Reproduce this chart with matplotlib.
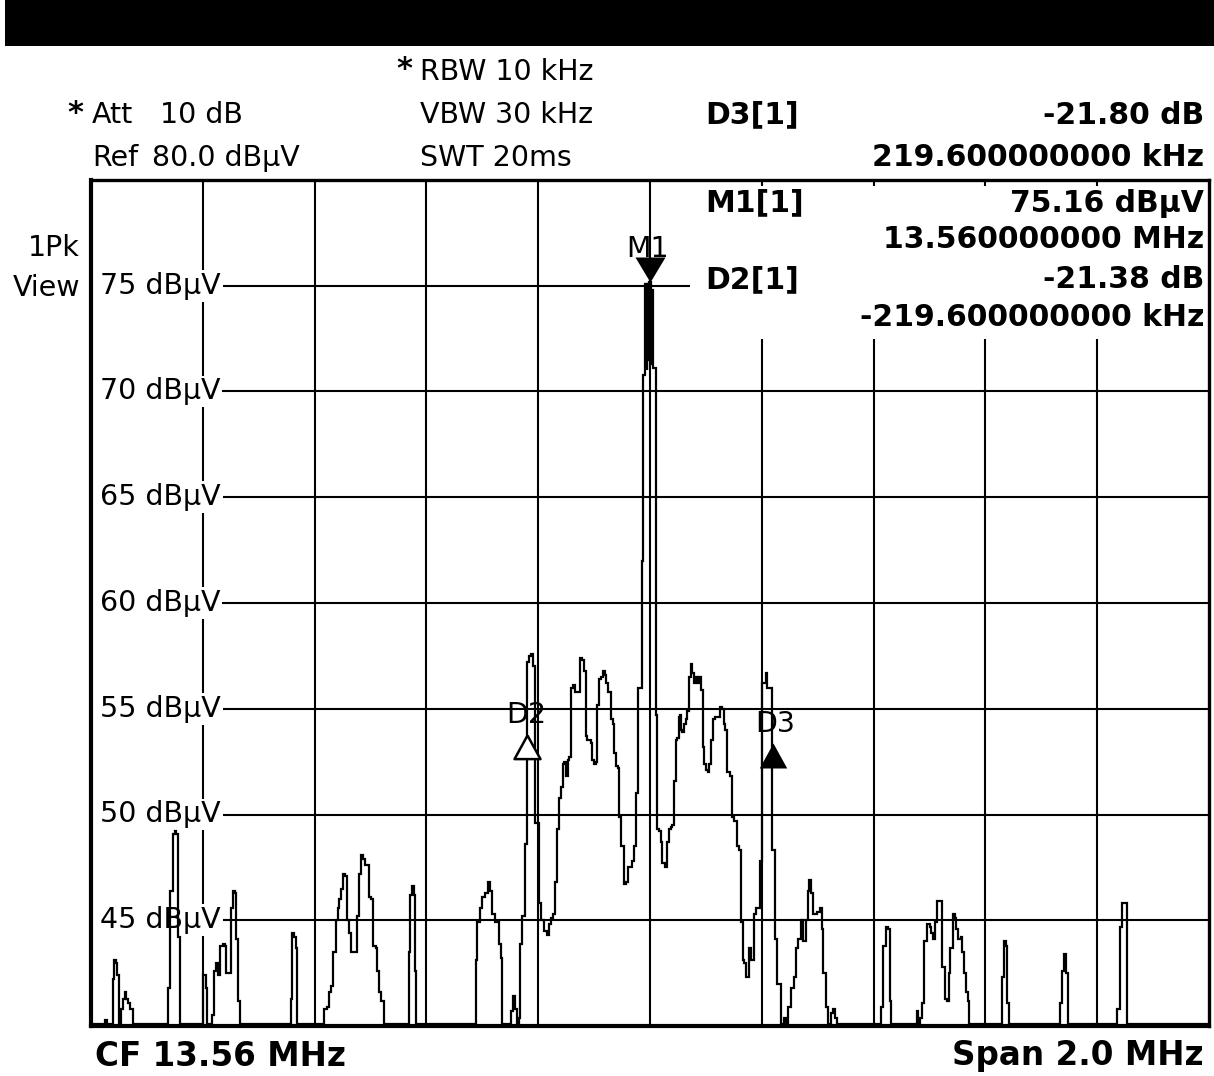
import matplotlib
matplotlib.use("Agg")
import matplotlib.pyplot as plt
from matplotlib.patches import Rectangle

# ---- instrument settings -------------------------------------------------
center_mhz = 13.56
span_mhz = 2.0
ref_level = 80.0
bottom_level = 40.0
grid_levels = [45, 50, 55, 60, 65, 70, 75]

header_left = [("Att", "10 dB"), ("Ref", "80.0 dB\u03bcV")]
header_mid = ["RBW 10 kHz", "VBW 30 kHz", "SWT 20ms"]

# ---- markers ---------------------------------------------------------------
m1_offset_khz = 0.0
m1_level = 75.16
d2_offset_khz = -219.6
d2_delta_db = -21.38
d3_offset_khz = 219.6
d3_delta_db = -21.80

# ---- max-peak trace (offset from centre in kHz, level in dBuV) -------------
trace_khz = [
    -1000, -977, -973, -970,
    -962, -961, -957, -954, -952, -948,
    -946, -945, -941, -939, -936, -932, -927, -923,
    -862, -861, -855, -852, -849, -846, -844, -843, -839,
    -800, -798, -796, -794, -791,
    -784, -782, -778, -775, -771, -767, -762, -759, -757, -751, -748, -744,
    -741, -739, -735, -733,
    -644, -642, -639, -635, -632, -630,
    -585, -581, -576, -572, -569, -564, -560, -558, -555, -551, -549, -544,
    -540, -537, -531, -526, -522, -519, -515, -512, -508, -504, -501, -496,
    -494, -488, -487, -483, -478, -474,
    -433, -431, -428, -424, -420, -419, -417,
    -313, -311, -308, -302, -299, -293, -288, -283, -281, -274, -268, -265,
    -263,
    -249, -247, -243, -240, -236, -233, -231, -227, -222, -218, -215, -211,
    -208, -205, -201, -197, -192, -188, -182, -179, -175, -172, -168, -165,
    -161, -157, -156, -152, -148, -147, -143, -140, -136, -131, -127, -123,
    -120, -116, -113, -111, -107, -104, -102, -98, -95, -93, -91, -86,
    -82, -79, -77, -72, -68, -66, -63, -59, -57, -54, -48, -45,
    -41, -36, -30, -27, -23, -21, -16, -13, -11, -7, -5, -4,
    -2, 0, 2, 4, 5, 9, 11, 14, 18, 21, 23, 29,
    32, 36, 39, 41, 45, 48, 50, 52, 55, 57, 59, 63,
    66, 68, 70, 75, 77, 81, 84, 86, 89, 93, 95, 98,
    102, 104, 107, 111, 114, 120, 123, 127, 131, 132, 136, 140,
    145, 147, 148, 154, 156, 161, 165, 166, 170, 174, 175, 179,
    182, 184, 188, 191, 195, 199, 202, 206, 209, 211, 215, 222,
    226, 229, 233, 236, 242, 245, 250, 256, 259, 263, 268, 272,
    277, 281, 283, 286, 290, 292, 295, 301, 306, 308, 311, 317,
    320, 326, 329, 333, 335,
    413, 415, 420, 424, 428, 431, 433,
    476, 478, 481, 485, 488, 494, 497, 503, 504, 508, 513, 515,
    521, 522, 524, 530, 533, 535, 540, 544, 547, 549, 553, 558,
    560, 564, 567, 571, 572,
    628, 630, 635, 639, 640, 644,
    733, 735, 739, 742, 746, 748,
    835, 837, 843, 846, 852, 853, 855,
    1000,
]
trace_dbuv = [
    40.1, 40.1, 40.3, 40.1,
    40.1, 42.2, 43.1, 43.0, 42.4, 40.1,
    40.1, 40.8, 41.3, 41.6, 41.3, 41.1, 40.8, 40.1,
    40.1, 41.8, 46.4, 49.1, 49.2, 49.1, 47.8, 44.2, 40.1,
    40.1, 42.4, 42.4, 41.8, 40.1,
    40.1, 40.5, 42.6, 43.0, 42.4, 43.8, 43.9, 43.8, 42.5, 42.5, 45.6, 46.4,
    46.3, 44.1, 41.2, 40.1,
    40.1, 41.3, 44.4, 44.2, 43.7, 40.1,
    40.1, 40.8, 40.9, 41.6, 41.9, 43.5, 45.0, 45.6, 46.0, 46.5, 47.2, 47.1,
    45.0, 44.4, 43.5, 43.5, 45.2, 47.2, 48.1, 47.9, 47.6, 47.6, 46.1, 46.0,
    43.8, 43.7, 42.6, 41.6, 41.2, 40.1,
    40.1, 43.5, 46.2, 46.6, 46.2, 42.6, 40.1,
    40.1, 43.1, 44.9, 45.6, 46.1, 46.3, 46.8, 46.4, 45.3, 44.9, 43.9, 43.2,
    40.1,
    40.1, 40.7, 41.4, 40.8, 40.1, 40.4, 43.9, 45.2, 48.6, 57.2, 57.5, 57.6,
    57.0, 49.6, 49.6, 45.8, 45.0, 44.5, 44.3, 44.8, 45.1, 45.3, 46.8, 49.3,
    50.8, 51.3, 52.4, 52.5, 51.8, 52.6, 52.7, 56.0, 56.1, 55.8, 55.8, 57.4,
    57.3, 56.8, 53.7, 53.5, 53.5, 53.4, 52.6, 52.4, 52.5, 55.2, 56.4, 56.5,
    56.8, 56.6, 56.2, 55.8, 54.5, 54.3, 52.9, 52.3, 52.2, 49.9, 48.5, 46.7,
    46.8, 47.5, 47.8, 48.5, 51.0, 56.0, 56.0, 62.0, 70.8, 75.1, 71.0, 75.1,
    71.5, 75.16, 71.3, 74.8, 71.1, 71.1, 54.7, 49.3, 49.2, 48.7, 47.7, 47.5,
    48.7, 49.3, 49.4, 49.5, 51.6, 53.5, 53.6, 54.6, 54.7, 54.0, 53.9, 54.3,
    54.5, 54.9, 56.5, 57.1, 56.7, 56.2, 56.5, 56.2, 56.5, 55.9, 53.2, 52.4,
    52.1, 52.0, 52.4, 53.5, 54.5, 54.6, 54.6, 55.1, 55.0, 54.3, 54.0, 52.0,
    51.8, 50.8, 49.9, 49.7, 48.5, 48.3, 44.9, 43.1, 43.0, 42.3, 42.3, 43.7,
    43.1, 43.1, 45.3, 45.6, 45.6, 47.8, 56.2, 56.2, 56.7, 56.0, 56.0, 48.3,
    44.1, 42.0, 42.0, 40.1, 40.4, 40.1, 40.9, 41.8, 42.3, 43.7, 44.1, 45.0,
    44.0, 45.0, 46.4, 46.9, 46.3, 45.3, 45.3, 45.4, 45.6, 44.6, 42.5, 40.9,
    40.1, 40.6, 40.8, 40.4, 40.1,
    40.1, 40.9, 43.8, 44.7, 44.6, 41.2, 40.1,
    40.1, 40.7, 40.1, 40.4, 41.1, 44.0, 44.8, 44.7, 44.4, 44.1, 44.9, 45.9,
    45.9, 43.6, 42.8, 41.3, 41.2, 42.5, 43.7, 45.3, 45.1, 44.6, 44.1, 44.2,
    43.5, 42.5, 41.6, 41.2, 40.1,
    40.1, 42.3, 44.0, 43.8, 41.1, 40.1,
    40.1, 41.1, 42.6, 43.4, 42.5, 40.1,
    40.1, 40.8, 44.7, 45.8, 45.8, 43.5, 40.1,
    40.1,
]

W, H = 1214, 1076
fig = plt.figure(figsize=(W / 100, H / 100), dpi=100)
fig.patch.set_facecolor("white")


def fx(px):
    return px / W


def fy(py):
    return 1 - py / H


# title banner
fig.patches.append(Rectangle((fx(5), fy(46)), fx(1214) - fx(5), 46 / H,
                             transform=fig.transFigure, facecolor="black",
                             edgecolor="none", zorder=0))

half_span = span_mhz * 1000 / 2
ax = fig.add_axes([fx(91), fy(1026), (1209 - 91) / W, (1026 - 180) / H])
ax.set_xlim(-half_span, half_span)
ax.set_ylim(bottom_level, ref_level)
ax.set_xticks([])
ax.set_yticks([])
for side, sp in ax.spines.items():
    sp.set_linewidth(3.0 if side in ("left", "bottom") else 2.4)
    sp.set_zorder(6)

# graticule: 10 frequency divisions, one line per level label
div = span_mhz * 1000 / 10
for i in range(1, 10):
    ax.axvline(-half_span + i * div, color="black", lw=1.5, zorder=1)
for lv in grid_levels:
    ax.axhline(lv, xmin=0.116, color="black", lw=1.5, zorder=1)

for lv in grid_levels:
    ax.text(-984, lv, f"{lv} dB\u03bcV", fontsize=20.5, ha="left",
            va="center",
            bbox=dict(facecolor="white", edgecolor="none", pad=1.5), zorder=3)

# marker readout panel
ax.add_patch(Rectangle((72, 72.5), half_span - 72, 79.7 - 72.5,
                       facecolor="white", edgecolor="none", zorder=2))

# trace
ax.plot(trace_khz, trace_dbuv, drawstyle="steps-mid", color="black",
        lw=1.6, zorder=5, solid_joinstyle="miter")

# marker symbols (tip on the marker level)
d2_level = m1_level + d2_delta_db
d3_level = m1_level + d3_delta_db
down_tri = [(0, 0), (-0.6, 1), (0.6, 1), (0, 0)]
up_tri = [(0, 0), (-0.55, -1), (0.55, -1), (0, 0)]
ax.plot([m1_offset_khz], [m1_level], marker=down_tri, ms=36, color="black",
        mew=0, zorder=7, clip_on=False)
ax.plot([d2_offset_khz], [d2_level], marker=up_tri, ms=34, mfc="white",
        mec="black", mew=1.8, zorder=7)
ax.plot([d3_offset_khz], [d3_level], marker=up_tri, ms=36, color="black",
        mew=0, zorder=7)
lbl = dict(fontsize=20.5, ha="center", va="baseline", zorder=7)
ax.text(m1_offset_khz - 4, m1_level + 1.2, "M1", **lbl)
ax.text(d2_offset_khz - 2, d2_level + 0.55, "D2", **lbl)
ax.text(d3_offset_khz + 4, d3_level + 0.55, "D3", **lbl)

# ---- header texts -------------------------------------------------------------
reg = dict(fontsize=20.5, va="center", color="black")
bold = dict(fontsize=21.5, va="center", color="black", fontweight="bold")
star = dict(fontsize=22, fontweight="bold", ha="center", va="center")

fig.text(fx(404), fy(70), "*", **star)
fig.text(fx(75), fy(113), "*", **star)
for row, txt in enumerate(header_mid):
    fig.text(fx(420), fy(72 + 43 * row), txt, ha="left", **reg)
for row, (name, val) in enumerate(header_left):
    fig.text(fx(92), fy(115 + 43 * row), name, ha="left", **reg)
    fig.text(fx(160 if row == 0 else 152), fy(115 + 43 * row), val,
             ha="left", **reg)

fig.text(fx(80), fy(248), "1Pk", ha="right", **reg)
fig.text(fx(80), fy(288), "View", ha="right", **reg)

# marker readout
fig.text(fx(705), fy(115), "D3[1]", ha="left", **bold)
fig.text(fx(1204), fy(115), f"{d3_delta_db:.2f} dB", ha="right", **bold)
fig.text(fx(1204), fy(158), f"{d3_offset_khz:.9f} kHz", ha="right", **bold)
fig.text(fx(705), fy(203), "M1[1]", ha="left", **bold)
fig.text(fx(1204), fy(203), f"{m1_level:.2f} dB\u03bcV", ha="right", **bold)
fig.text(fx(1204), fy(240), f"{center_mhz + m1_offset_khz / 1000:.9f} MHz",
         ha="right", **bold)
fig.text(fx(705), fy(280), "D2[1]", ha="left", **bold)
fig.text(fx(1204), fy(280), f"{d2_delta_db:.2f} dB", ha="right", **bold)
fig.text(fx(1204), fy(318), f"{d2_offset_khz:.9f} kHz", ha="right", **bold)

fig.text(fx(95), fy(1056), f"CF {center_mhz:.2f} MHz", ha="left",
         fontsize=23.5, fontweight="bold", va="center")
fig.text(fx(1204), fy(1056), f"Span {span_mhz:.1f} MHz", ha="right",
         fontsize=23.5, fontweight="bold", va="center")

fig.savefig("out.png", dpi=100, facecolor="white")
